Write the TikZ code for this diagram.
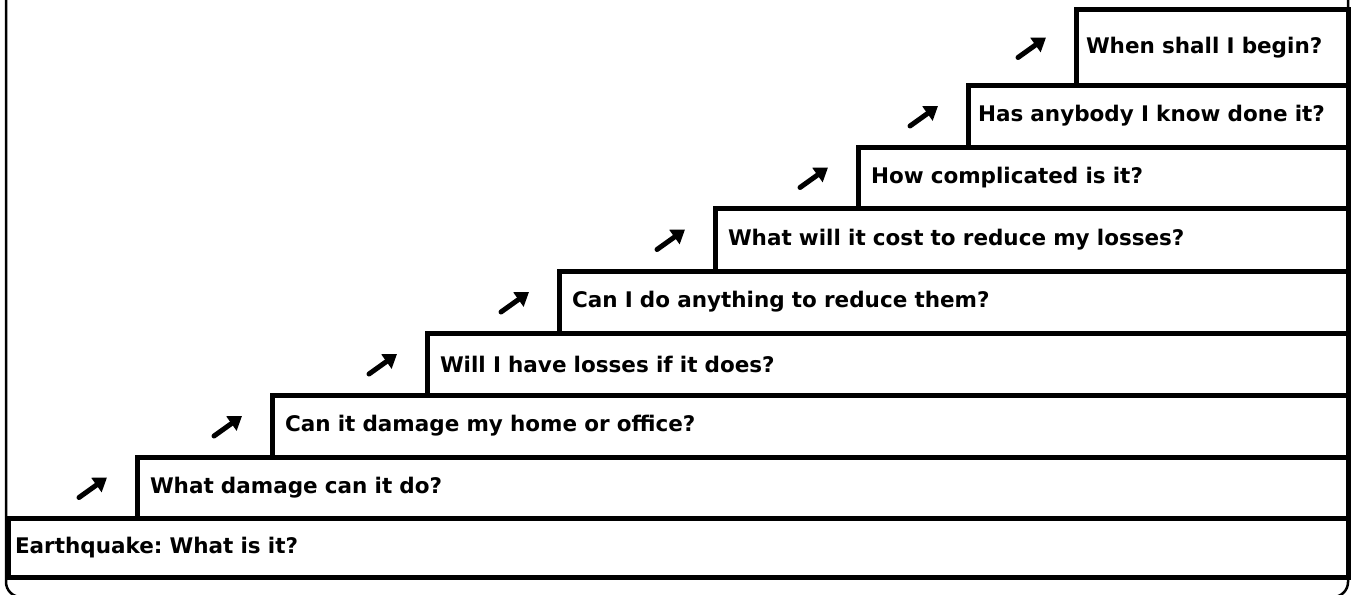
\documentclass[tikz,border=0pt]{standalone}
\usepackage{fontspec}
\setmainfont{DejaVu Sans}
\usetikzlibrary{arrows.meta,calc}
\frenchspacing
\begin{document}
\begin{tikzpicture}[x=1pt,y=-1pt,
  stepbox/.style={draw, line width=5pt, rectangle, anchor=north west, outer sep=0pt,
    inner xsep=13pt, inner ysep=0pt, align=left, font=\fontsize{21.5}{26}\selectfont\bfseries\frenchspacing},
  uparrow/.style={line width=5pt, line cap=round, -{Triangle[length=13pt,width=17pt]}},
  frame/.style={line width=2.5pt, rounded corners=15pt}]
\useasboundingbox (0,0) rectangle (1351,594);
\clip (0,0) rectangle (1351,594);
\node[stepbox, minimum width=1340pt, minimum height=59pt, text width=1326pt, inner xsep=7pt] (s0) at (8,518) {Earthquake: What is it?};
\node[stepbox, minimum width=1211pt, minimum height=61pt, text width=1185pt] (s1) at (137,457) {What damage can it do?};
\node[stepbox, minimum width=1076pt, minimum height=62pt, text width=1050pt] (s2) at (272,395) {Can it damage my home or office?};
\node[stepbox, minimum width=921pt, minimum height=62pt, text width=895pt] (s3) at (427,333) {Will I have losses if it does?};
\node[stepbox, minimum width=789pt, minimum height=62pt, text width=763pt] (s4) at (559,271) {Can I do anything to reduce them?};
\node[stepbox, minimum width=633pt, minimum height=63pt, text width=607pt] (s5) at (715,208) {What will it cost to reduce my losses?};
\node[stepbox, minimum width=490pt, minimum height=61pt, text width=464pt] (s6) at (858,147) {How complicated is it?};
\node[stepbox, minimum width=380pt, minimum height=62pt, text width=360pt, inner xsep=10pt] (s7) at (968,85) {Has anybody I know done it?};
\node[stepbox, minimum width=272pt, minimum height=75pt, text width=252pt, inner xsep=10pt] (s8) at (1076,10) {When shall I begin?};
\foreach \s in {s1,s2,s3,s4,s5,s6,s7,s8}{
  \coordinate (\s tail) at ($(\s.west)+(-58,10)$);
  \coordinate (\s head) at ($(\s.west)+(-30,-10)$);
  \draw[uparrow] (\s tail) -- (\s head);
}
\draw[frame] (6,-30) -- (6,597) -- (1348,597) -- (1348,-30);
\end{tikzpicture}
\end{document}
